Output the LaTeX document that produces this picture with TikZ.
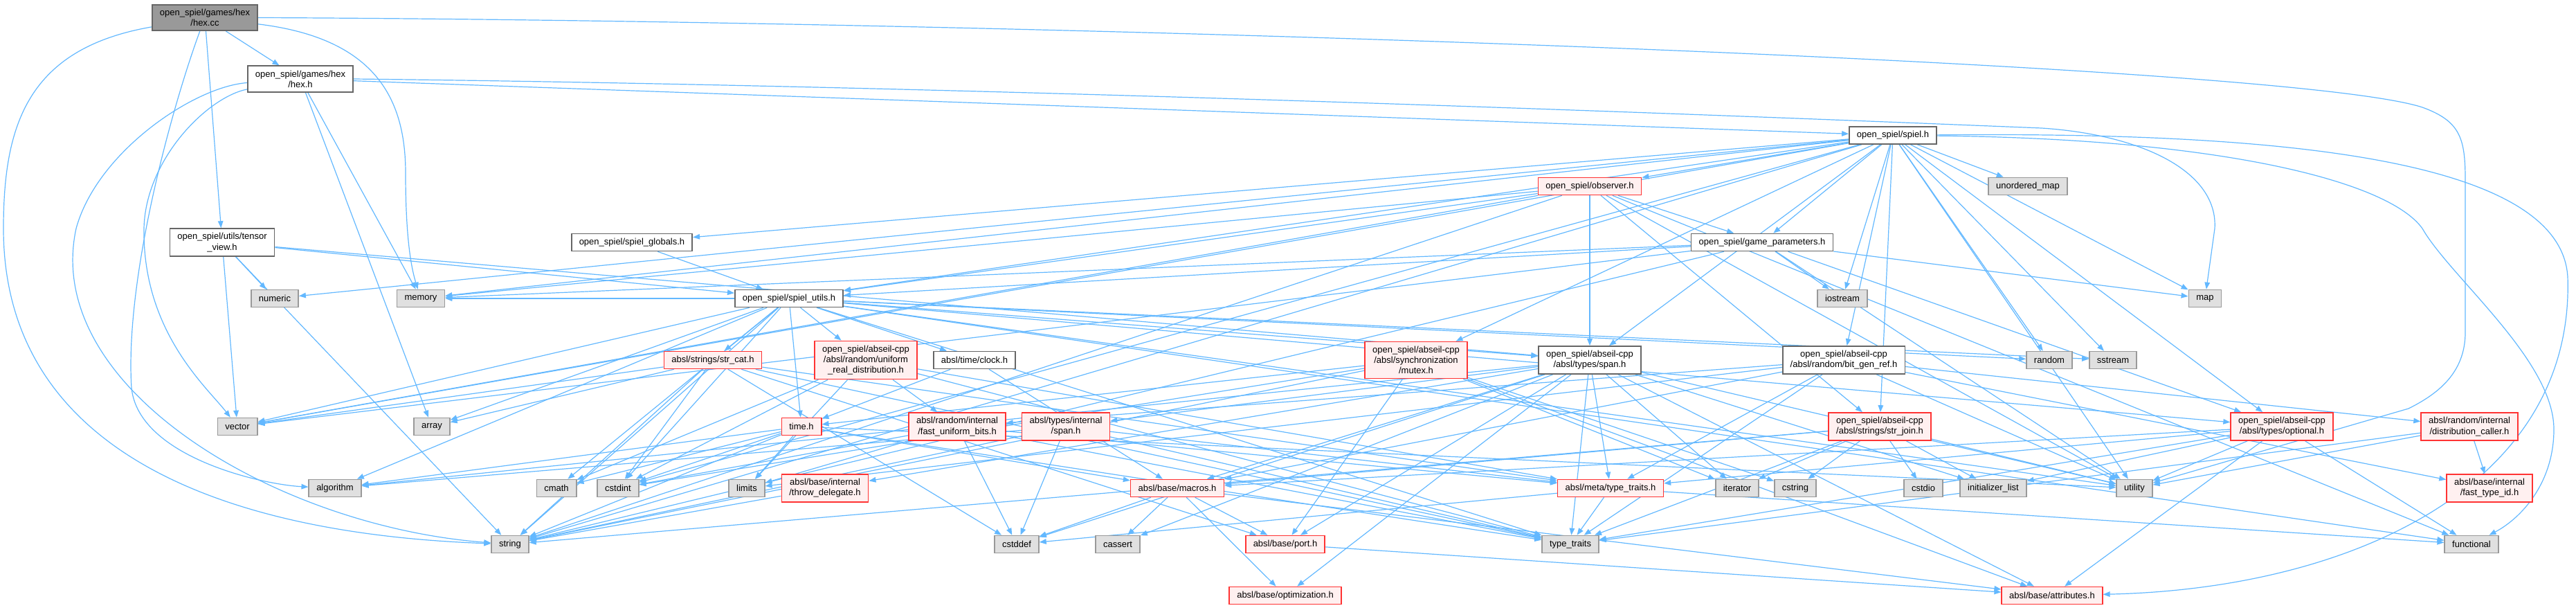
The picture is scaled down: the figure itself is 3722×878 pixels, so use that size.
\documentclass[tikz,border=0pt]{standalone}
\usepackage{fontspec}
\setmainfont{Liberation Sans}
\usetikzlibrary{arrows.meta,backgrounds}
\definecolor{edgeblue}{HTML}{63B8FF}
\definecolor{redfill}{HTML}{FFF0F0}
\definecolor{sysfill}{HTML}{E0E0E0}
\definecolor{sysdraw}{HTML}{999999}
\definecolor{maindraw}{HTML}{666666}
\definecolor{mainfill}{HTML}{999999}
\definecolor{truncdraw}{HTML}{FF3333}
\begin{document}
\begin{tikzpicture}[x=0.5pt,y=-0.5pt,
  box/.style={draw=maindraw, fill=white, line width=0.8pt, inner xsep=5.5pt, inner ysep=3.2pt,
    minimum height=12.5pt, align=center, font=\fontsize{6.5}{7.6}\selectfont},
  mainbox/.style={box, fill=mainfill},
  sysbox/.style={box, draw=sysdraw, fill=sysfill},
  truncbox/.style={box, draw=truncdraw, fill=redfill},
  edge/.style={draw=edgeblue, line width=0.6pt, -{Triangle[length=5pt,width=3.8pt]}}]
\useasboundingbox (0,0) rectangle (3722,878);

% nodes
\node[mainbox] (hexcc) at (296,25.5) {open\_spiel/games/hex\\/hex.cc};
\node[box] (hexh) at (434,114) {open\_spiel/games/hex\\/hex.h};
\node[box] (spielh) at (2735,195.5) {open\_spiel/spiel.h};
\node[truncbox] (observer) at (2297,269) {open\_spiel/observer.h};
\node[sysbox] (unorderedmap) at (2930,269) {unordered\_map};
\node[box] (tensorview) at (321,350) {open\_spiel/utils/tensor\\\_view.h};
\node[sysbox] (numeric) at (397,431) {numeric};
\node[sysbox] (memory) at (608,431) {memory};
\node[box] (globals) at (913,350) {open\_spiel/spiel\_globals.h};
\node[box] (utils) at (1140,431) {open\_spiel/spiel\_utils.h};
\node[truncbox] (strcat) at (1030,520) {absl/strings/str\_cat.h};
\node[truncbox] (uniform) at (1251,520) {open\_spiel/abseil-cpp\\/absl/random/uniform\\\_real\_distribution.h};
\node[box] (clock) at (1408,520) {absl/time/clock.h};
\node[box] (gameparams) at (2546,350) {open\_spiel/game\_parameters.h};
\node[sysbox] (iostream) at (2662,431) {iostream};
\node[truncbox] (mutex) at (2046,520) {open\_spiel/abseil-cpp\\/absl/synchronization\\/mutex.h};
\node[box] (span) at (2297,520) {open\_spiel/abseil-cpp\\/absl/types/span.h};
\node[box] (bitgen) at (2664,520) {open\_spiel/abseil-cpp\\/absl/random/bit\_gen\_ref.h};
\node[sysbox] (map) at (3186,431) {map};
\node[sysbox] (random) at (2961,520) {random};
\node[sysbox] (sstream) at (3053,520) {sstream};
\node[sysbox] (vector) at (343,616) {vector};
\node[sysbox] (array) at (624,616) {array};
\node[sysbox] (algorithm) at (484,705) {algorithm};
\node[sysbox] (cmath) at (804,705) {cmath};
\node[sysbox] (cstdint) at (893,705) {cstdint};
\node[sysbox] (string) at (737,786) {string};
\node[truncbox] (timeh) at (1158,616) {time.h};
\node[truncbox] (fastbits) at (1383,616) {absl/random/internal\\/fast\_uniform\_bits.h};
\node[truncbox] (ispan) at (1540,616) {absl/types/internal\\/span.h};
\node[sysbox] (limits) at (1079,705) {limits};
\node[truncbox] (throwdel) at (1192,705) {absl/base/internal\\/throw\_delegate.h};
\node[truncbox] (macros) at (1701,705) {absl/base/macros.h};
\node[sysbox] (cstddef) at (1469,786) {cstddef};
\node[sysbox] (cassert) at (1615,786) {cassert};
\node[truncbox] (port) at (1857,786) {absl/base/port.h};
\node[truncbox] (optim) at (1857,860) {absl/base/optimization.h};
\node[truncbox] (mtraits) at (2327,705) {absl/meta/type\_traits.h};
\node[sysbox] (iterator) at (2510,705) {iterator};
\node[sysbox] (cstring) at (2594,705) {cstring};
\node[sysbox] (cstdio) at (2779,705) {cstdio};
\node[truncbox] (strjoin) at (2716,616) {open\_spiel/abseil-cpp\\/absl/strings/str\_join.h};
\node[sysbox] (traits) at (2269,786) {type\_traits};
\node[sysbox] (initlist) at (2880,705) {initializer\_list};
\node[sysbox] (utility) at (3084,705) {utility};
\node[truncbox] (optional) at (3297,616) {open\_spiel/abseil-cpp\\/absl/types/optional.h};
\node[truncbox] (distcaller) at (3568,616) {absl/random/internal\\/distribution\_caller.h};
\node[truncbox] (fasttypeid) at (3597,705) {absl/base/internal\\/fast\_type\_id.h};
\node[sysbox] (functional) at (3571,786) {functional};
\node[truncbox] (attributes) at (2965,860) {absl/base/attributes.h};

\begin{pgfonlayer}{background}
\foreach \a/\b in {hexcc/hexh, hexcc/tensorview,
  hexh/spielh, hexh/memory, hexh/array,
  tensorview/numeric, tensorview/vector, tensorview/string, tensorview/utils, tensorview/span,
  spielh/observer, spielh/gameparams, spielh/globals, spielh/utils, spielh/unorderedmap,
  spielh/numeric, spielh/memory, spielh/string, spielh/vector, spielh/iostream, spielh/map,
  spielh/random, spielh/sstream, spielh/cstdint, spielh/utility, spielh/bitgen, spielh/strjoin,
  spielh/mutex, spielh/optional, spielh/span,
  observer/gameparams, observer/utils, observer/span, observer/strjoin, observer/memory,
  observer/string, observer/vector, observer/utility, observer/functional,
  gameparams/iostream, gameparams/map, gameparams/memory, gameparams/string, gameparams/vector,
  gameparams/utils, gameparams/utility, gameparams/optional,
  globals/utils,
  utils/strcat, utils/uniform, utils/clock, utils/timeh, utils/span, utils/optional, utils/random,
  utils/sstream, utils/array, utils/vector, utils/string, utils/algorithm, utils/cmath,
  utils/cstdint, utils/memory, utils/traits, utils/utility, utils/functional,
  strcat/array, strcat/vector, strcat/string, strcat/cstdint, strcat/cstddef, strcat/traits,
  strcat/mtraits, strcat/port,
  uniform/fastbits, uniform/cmath, uniform/cstdint, uniform/limits, uniform/traits, uniform/mtraits,
  clock/timeh, clock/macros,
  timeh/limits, timeh/cmath, timeh/cstdint, timeh/string, timeh/macros, timeh/traits,
  timeh/utility, timeh/algorithm,
  mutex/cstdint, mutex/cstring, mutex/iterator, mutex/string, mutex/attributes, mutex/port, mutex/timeh,
  span/algorithm, span/cassert, span/cstddef, span/initlist, span/iterator, span/traits,
  span/utility, span/attributes, span/throwdel, span/macros, span/optim, span/port, span/mtraits, span/ispan,
  bitgen/distcaller, bitgen/fasttypeid, bitgen/macros, bitgen/mtraits, bitgen/limits,
  bitgen/traits, bitgen/utility, bitgen/fastbits,
  fastbits/cstddef, fastbits/cstdint, fastbits/limits, fastbits/traits, fastbits/mtraits,
  ispan/algorithm, ispan/cstddef, ispan/string, ispan/traits, ispan/mtraits,
  strjoin/cstdio, strjoin/cstring, strjoin/iterator, strjoin/initlist, strjoin/utility,
  strjoin/traits, strjoin/string, strjoin/macros,
  optional/functional, optional/initlist, optional/utility, optional/attributes,
  optional/mtraits, optional/traits, optional/macros,
  distcaller/fasttypeid, distcaller/utility, distcaller/traits,
  throwdel/string,
  macros/cstddef, macros/cassert, macros/port, macros/optim, macros/attributes,
  port/attributes,
  mtraits/traits, mtraits/cstddef, mtraits/functional}
  \draw[edge] (\a) -- (\b);

% curved long connectors
\draw[edge] (hexcc.east) .. controls (1500,30) and (3300,90) .. (3500,155)
  .. controls (3555,175) and (3562,200) .. (3562,260) -- (3562,480)
  .. controls (3562,540) and (3520,570) .. (3480,590) -- (utility);
\draw[edge] (hexh.east) .. controls (1500,125) and (2700,175) .. (2950,185)
  .. controls (3100,195) and (3205,250) .. (3200,330) -- (map);
\draw[edge] (hexcc) .. controls (540,55) and (586,140) .. (586,250)
  .. controls (586,330) and (592,380) .. (memory);
\draw[edge] (hexcc) .. controls (40,70) and (5,180) .. (5,330)
  .. controls (5,640) and (300,770) .. (string);
\draw[edge] (hexcc) .. controls (250,150) and (180,400) .. (190,560)
  .. controls (200,660) and (380,700) .. (algorithm);
\draw[edge] (hexh) .. controls (300,140) and (210,230) .. (208,330)
  .. controls (206,480) and (300,560) .. (vector);
\draw[edge] (hexh) .. controls (280,125) and (140,220) .. (110,330)
  .. controls (60,560) and (400,760) .. (string);
\draw[edge] (spielh) .. controls (3200,200) and (3450,260) .. (3500,330)
  .. controls (3540,400) and (3690,520) .. (3690,620)
  .. controls (3690,700) and (3640,750) .. (functional);
\draw[edge] (spielh) .. controls (3300,190) and (3700,230) .. (3710,400)
  .. controls (3720,700) and (3400,850) .. (attributes);
\end{pgfonlayer}
\end{tikzpicture}
\end{document}
